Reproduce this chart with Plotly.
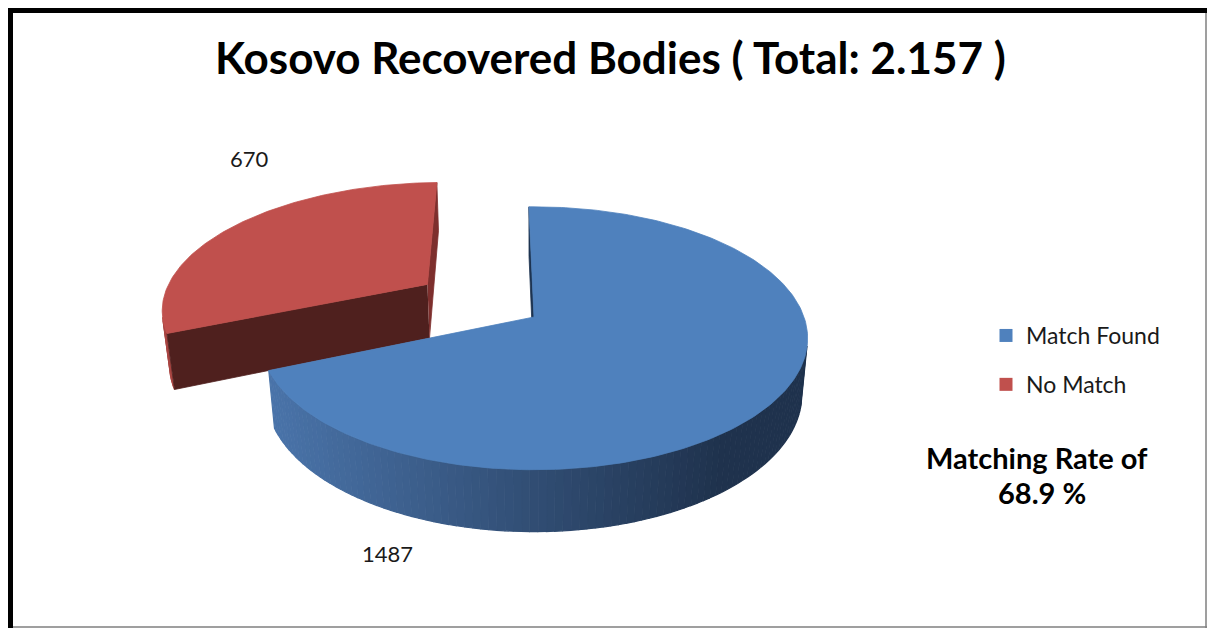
import numpy as np
import plotly.graph_objects as go

# ---------------- data ----------------
categories = ["Match Found", "No Match"]
values = [1487, 670]
title_text = "Kosovo Recovered Bodies ( Total: 2.157 )"
note_lines = ["Matching Rate of", "68.9 %"]

# ---------------- style ----------------
top_colors = ["#4f81bd", "#c0504d"]
wall_colors = [None, "#a94643"]          # None -> gradient
start_face_colors = ["#1d3350", "#4f201e"]
end_face_colors = ["#1d3350", "#7d2f2d"]
explode = [0.0, 0.49]
FONT = "Lato"
TXT = "#1a1a1a"

# the page has an 8px body margin: keep data coords == window pixels
OFF = 8
FW, FH = 1199, 620
CX, CY = 534, 317
F = 270.0
D = 5.44
ALPHA = np.radians(28.3)
DEPTH = 0.237
START = -1.25

sa, ca = np.sin(ALPHA), np.cos(ALPHA)
CAM = np.array([0.0, D * ca, D * sa])


def proj(u, v, h):
    u = np.asarray(u, float)
    v = np.asarray(v, float)
    h = np.asarray(h, float)
    yc = -v * sa + h * ca
    zc = D - v * ca - h * sa
    return CX + F * D * u / zc, CY - F * D * yc / zc


def blue_wall(x):
    t = float(np.clip((x - 270) / (720 - 270), 0, 1))
    a = np.array([74, 116, 170])
    b = np.array([31, 50, 77])
    c = (1 - t) * a + t * b
    return "rgb(%d,%d,%d)" % tuple(int(round(k)) for k in c)


total = float(sum(values))
cum = np.concatenate([[0], np.cumsum(values)]) / total * 360.0

fig = go.Figure()


def poly(xs, ys, color, lw=1.0):
    fig.add_trace(go.Scatter(
        x=list(xs), y=list(ys), mode="lines", fill="toself",
        fillcolor=color, line=dict(color=color, width=lw),
        hoverinfo="skip", showlegend=False))


slices = []
for i in range(len(values)):
    t0 = START + cum[i]
    t1 = START + cum[i + 1]
    tm = np.radians((t0 + t1) / 2)
    ou, ov = explode[i] * np.sin(tm), -explode[i] * np.cos(tm)
    slices.append((i, t0, t1, ou, ov, -np.cos(tm)))

# painter's order: back slices first
slices.sort(key=lambda s: s[5])

for i, t0, t1, ou, ov, _ in slices:
    # outer wall, drawn in small visible pieces
    n = max(int(abs(t1 - t0) / 1.5), 2)
    th = np.radians(np.linspace(t0, t1, n + 1))
    for k in range(n):
        a0, a1 = th[k], th[k + 1]
        am = (a0 + a1) / 2
        nrm = np.array([np.sin(am), -np.cos(am), 0.0])
        p = np.array([ou + np.sin(am), ov - np.cos(am), -DEPTH / 2])
        if nrm.dot(CAM - p) <= 0:
            continue
        us = [ou + np.sin(a0), ou + np.sin(a1), ou + np.sin(a1), ou + np.sin(a0)]
        vs = [ov - np.cos(a0), ov - np.cos(a1), ov - np.cos(a1), ov - np.cos(a0)]
        hs = [0, 0, -DEPTH, -DEPTH]
        xs, ys = proj(us, vs, hs)
        col = wall_colors[i] if wall_colors[i] else blue_wall(float(np.mean(xs)))
        poly(xs, ys, col, 1.2)
    # radial cut faces
    for ang, sign, col in ((t0, -1, start_face_colors[i]), (t1, 1, end_face_colors[i])):
        a = np.radians(ang)
        nrm = sign * np.array([np.cos(a), np.sin(a), 0.0])
        p = np.array([ou + 0.5 * np.sin(a), ov - 0.5 * np.cos(a), -DEPTH / 2])
        if nrm.dot(CAM - p) <= 0:
            continue
        us = [ou, ou + np.sin(a), ou + np.sin(a), ou]
        vs = [ov, ov - np.cos(a), ov - np.cos(a), ov]
        hs = [0, 0, -DEPTH, -DEPTH]
        xs, ys = proj(us, vs, hs)
        poly(xs, ys, col, 0.8)
    # top face
    th = np.radians(np.linspace(t0, t1, int(abs(t1 - t0)) + 2))
    us = np.concatenate([[ou], ou + np.sin(th), [ou]])
    vs = np.concatenate([[ov], ov - np.cos(th), [ov]])
    xs, ys = proj(us, vs, np.zeros_like(us))
    poly(xs, ys, top_colors[i], 0.8)

# legend entries
for i, name in enumerate(categories):
    fig.add_trace(go.Scatter(
        x=[None], y=[None], mode="markers", name=name,
        legendgroup=str(i),
        marker=dict(symbol="square", size=13, color=top_colors[i]),
        hoverinfo="skip"))

annotations = [
    dict(x=610, y=57, text="<b>%s</b>" % title_text, showarrow=False,
         font=dict(family=FONT, size=44, color="#000000"),
         xanchor="center", yanchor="middle"),
    dict(x=387, y=553, text=str(values[0]), showarrow=False,
         font=dict(family=FONT, size=22, color=TXT), xanchor="center", yanchor="middle"),
    dict(x=249, y=158, text=str(values[1]), showarrow=False,
         font=dict(family=FONT, size=22, color=TXT), xanchor="center", yanchor="middle"),
    dict(x=1037, y=457, text="<b>%s</b>" % note_lines[0], showarrow=False,
         font=dict(family=FONT, size=29, color="#000000"), xanchor="center", yanchor="middle"),
    dict(x=1042, y=492, text="<b>%s</b>" % note_lines[1], showarrow=False,
         font=dict(family=FONT, size=29, color="#000000"), xanchor="center", yanchor="middle"),
]

X1, Y1 = OFF + FW, OFF + FH
shapes = [
    dict(type="line", x0=OFF, x1=X1, y0=10.5, y1=10.5, line=dict(color="#000000", width=5)),
    dict(type="line", x0=10.5, x1=10.5, y0=OFF, y1=Y1, line=dict(color="#000000", width=5)),
    dict(type="line", x0=X1 - 1, x1=X1 - 1, y0=13, y1=Y1, line=dict(color="#7f7f7f", width=1.5)),
    dict(type="line", x0=13, x1=X1, y0=Y1 - 1, y1=Y1 - 1, line=dict(color="#7f7f7f", width=1.5)),
]

fig.update_layout(
    width=FW, height=FH,
    margin=dict(l=0, r=0, t=0, b=0),
    paper_bgcolor="#ffffff", plot_bgcolor="#ffffff",
    xaxis=dict(range=[OFF, X1], visible=False, fixedrange=True),
    yaxis=dict(range=[Y1, OFF], visible=False, fixedrange=True),
    showlegend=True,
    legend=dict(x=(986 - OFF) / FW, y=1 - (314 - OFF) / FH, xanchor="left", yanchor="top",
                font=dict(family=FONT, size=23, color=TXT),
                tracegroupgap=16, bgcolor="rgba(0,0,0,0)"),
    annotations=annotations,
    shapes=shapes,
)

fig.write_html("out.html")
